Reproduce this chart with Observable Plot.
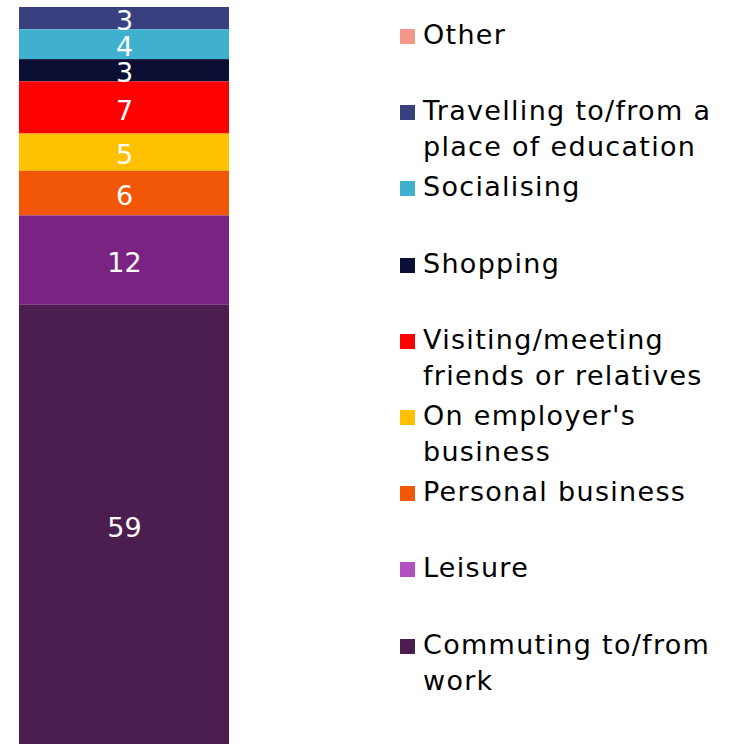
<!DOCTYPE html>
<html>
<head>
<meta charset="utf-8">
<script src="https://cdn.jsdelivr.net/npm/d3@7"></script>
<script src="https://cdn.jsdelivr.net/npm/@observablehq/plot@0.6"></script>
<style>
  html, body { margin: 0; padding: 0; background: #fff; }
  #wrap { position: relative; width: 735px; height: 744px; overflow: hidden; font-family: "DejaVu Sans", Verdana, sans-serif; }
  #legend { position: absolute; left: 400px; top: 18px; }
  .item { position: relative; height: 76.2px; }
  .sw { position: absolute; left: 0; top: 11px; width: 15px; height: 15px; }
  .lab { position: absolute; left: 23px; top: -1px; font-size: 27px; letter-spacing: 1.3px; line-height: 36px; color: #000; white-space: nowrap; }
</style>
</head>
<body>
<div id="wrap"></div>
<script>
// Purposes, from top of bar to bottom (legend order)
const purposes = [
  "Other",
  "Travelling to/from a place of education",
  "Socialising",
  "Shopping",
  "Visiting/meeting friends or relatives",
  "On employer's business",
  "Personal business",
  "Leisure",
  "Commuting to/from work"
];
const legendLines = [
  ["Other"],
  ["Travelling to/from a", "place of education"],
  ["Socialising"],
  ["Shopping"],
  ["Visiting/meeting", "friends or relatives"],
  ["On employer's", "business"],
  ["Personal business"],
  ["Leisure"],
  ["Commuting to/from", "work"]
];
const values = [0, 3, 4, 3, 7, 5, 6, 12, 59];
const barColors = ["#F4978A", "#38407F", "#3FB1CE", "#0A0F33", "#FF0000", "#FFC000", "#F25708", "#7B2382", "#4C1E50"];
const legendColors = ["#F4978A", "#38407F", "#3FB1CE", "#0A0F33", "#FF0000", "#FFC000", "#F25708", "#B24FC3", "#4C1E50"];

// stack bottom-up: Commuting first
const order = purposes.slice().reverse();
const data = purposes.map((p, i) => ({group: "all", purpose: p, value: values[i]}));
const total = d3.sum(values);

const chart = Plot.plot({
  width: 735,
  height: 744,
  marginLeft: 19,
  marginRight: 506,
  marginTop: 7,
  marginBottom: 0,
  x: {type: "band", domain: ["all"], padding: 0, axis: null},
  y: {domain: [0, total], axis: null},
  color: {domain: purposes, range: barColors},
  marks: [
    Plot.barY(data, Plot.stackY({
      x: "group", y: "value", fill: "purpose", order: order
    })),
    Plot.text(data.filter(d => d.value > 0), Plot.stackY({
      x: "group", y: "value", z: "purpose", order: order, text: d => String(d.value),
      fill: "#fff", fontSize: 27, dy: 3, letterSpacing: 1,
      fontFamily: "DejaVu Sans, Verdana, sans-serif"
    }))
  ]
});
const wrap = document.getElementById("wrap");
wrap.appendChild(chart);

const legend = document.createElement("div");
legend.id = "legend";
purposes.forEach((p, i) => {
  const it = document.createElement("div");
  it.className = "item";
  const sw = document.createElement("div");
  sw.className = "sw";
  sw.style.background = legendColors[i];
  const lab = document.createElement("div");
  lab.className = "lab";
  lab.innerHTML = legendLines[i].join("<br>");
  it.appendChild(sw);
  it.appendChild(lab);
  legend.appendChild(it);
});
wrap.appendChild(legend);
</script>
</body>
</html>
